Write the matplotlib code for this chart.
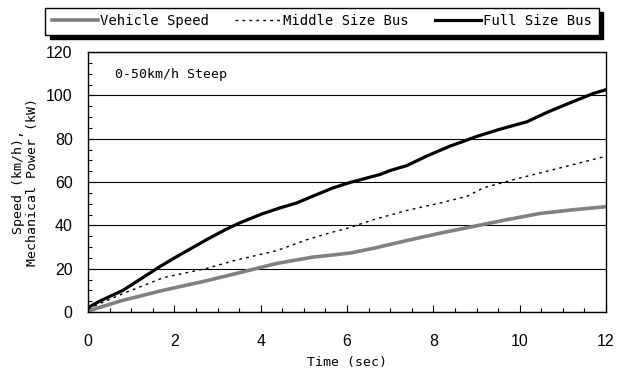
import matplotlib.pyplot as plt
from matplotlib.ticker import MultipleLocator

# acceleration run, 0-50 km/h on a steep grade
time_full = [0, 0.27, 0.81, 1.24, 1.66, 2.05, 2.74, 3.2, 3.5, 4.02, 4.44, 4.83, 5.2,
             5.68, 6.07, 6.23, 6.77, 7.0, 7.39, 7.85, 8.39, 8.62, 9.0, 9.55, 10.17,
             10.63, 11.1, 11.71, 12.0]
full_bus = [2.0, 5.0, 10.0, 15.5, 20.9, 25.5, 33.3, 38.2, 41.0, 45.2, 48.0, 50.3, 53.4,
            57.3, 59.8, 60.6, 63.5, 65.3, 67.6, 72.0, 76.6, 78.2, 81.0, 84.4, 87.8,
            92.1, 96.0, 100.9, 102.6]

time_mid = [0, 0.81, 1.74, 2.74, 3.44, 4.37, 5.06, 5.6, 6.07, 6.61, 7.39, 8.16, 8.78,
            9.16, 9.86, 10.48, 11.25, 12.0]
middle_bus = [1.5, 8.5, 15.8, 20.1, 24.0, 28.3, 33.3, 36.5, 39.0, 42.6, 46.9, 50.3, 53.4,
              57.3, 61.1, 64.2, 68.1, 71.9]

time_spd = [0, 0.81, 1.74, 2.74, 3.44, 4.37, 5.2, 6.07, 6.61, 7.39, 8.16, 8.93, 9.7,
            10.48, 11.25, 12.0]
vehicle_speed = [0.5, 5.4, 10.0, 14.4, 17.8, 22.4, 25.3, 27.2, 29.4, 33.0, 36.4, 39.5,
                 42.6, 45.5, 47.2, 48.6]

mono = 'DejaVu Sans Mono'

fig = plt.figure(figsize=(6.26, 3.79), dpi=100)
ax = fig.add_axes([88 / 626, 67 / 379, 518 / 626, 260 / 379])

ax.set_axisbelow(True)
ax.yaxis.grid(True, which='major', color='black', linewidth=0.8)

l1, = ax.plot(time_spd, vehicle_speed, color='#808080', linewidth=2.6,
              solid_joinstyle='round', label='Vehicle Speed')
l2, = ax.plot(time_mid, middle_bus, color='black', linewidth=1.0,
              linestyle=(0, (2, 3)), label='Middle Size Bus')
l3, = ax.plot(time_full, full_bus, color='black', linewidth=2.3,
              solid_joinstyle='round', label='Full Size Bus')

ax.set_xlim(0, 12)
ax.set_ylim(0, 120)
ax.xaxis.set_major_locator(MultipleLocator(2))
ax.xaxis.set_minor_locator(MultipleLocator(0.5))
ax.yaxis.set_major_locator(MultipleLocator(20))
ax.yaxis.set_minor_locator(MultipleLocator(5))
ax.tick_params(which='both', direction='in', top=False, right=False, width=0.8)
ax.tick_params(which='major', length=5)
ax.tick_params(which='minor', length=3)
ax.tick_params(axis='x', which='major', pad=16, labelsize=11.5)
ax.tick_params(axis='y', which='major', pad=11, labelsize=11.5)
for lab in ax.get_xticklabels() + ax.get_yticklabels():
    lab.set_fontfamily('Liberation Sans')
for sp in ax.spines.values():
    sp.set_linewidth(1.0)

ax.set_xlabel('Time (sec)', fontfamily=mono, fontsize=9.5, labelpad=5)
ax.set_ylabel('Speed (km/h),\nMechanical Power (kW)', fontfamily=mono, fontsize=9.5,
              linespacing=1.1)
ax.yaxis.set_label_coords(-0.095, 0.5)

ax.text(0.052, 0.915, '0-50km/h Steep', transform=ax.transAxes, fontfamily=mono,
        fontsize=9.5, va='center', ha='left')

leg = fig.legend(handles=[l1, l2, l3], loc='upper center', ncol=3,
                 bbox_to_anchor=(322 / 626, 1 - 8 / 379), borderaxespad=0,
                 prop={'family': mono, 'size': 10}, handlelength=3.3,
                 handletextpad=0.2, columnspacing=1.85, borderpad=0.45,
                 fancybox=False, frameon=True, edgecolor='black',
                 shadow={'color': 'black', 'alpha': 1, 'ox': 3, 'oy': -3})
leg.get_frame().set_linewidth(1.0)

fig.savefig('out.png', dpi=100)
